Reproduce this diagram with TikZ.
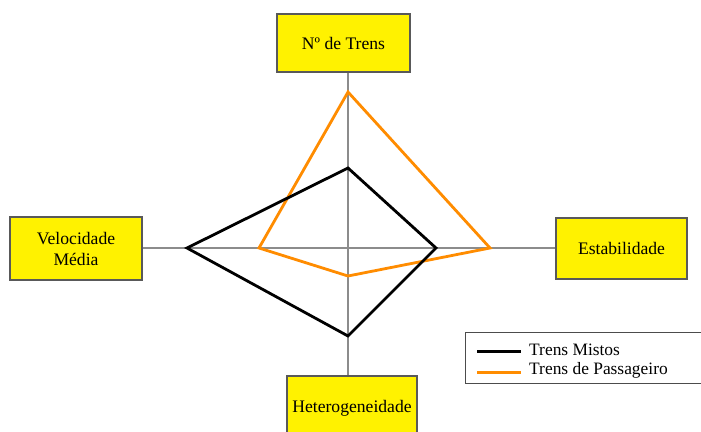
\documentclass[tikz,border=0pt]{standalone}
\usepackage{fontspec}
\setmainfont{Liberation Serif}
\begin{document}
\begin{tikzpicture}[x=1pt,y=-1pt,
  axbox/.style={draw=black!65,line width=1.4pt,fill=yellow,inner sep=0pt,align=center,font=\fontsize{17.6}{21}\selectfont},
  axis/.style={draw=black!45,line width=1.5pt},
  mistos/.style={draw=black,line width=2.8pt,line join=miter},
  passag/.style={draw=orange!90!yellow,line width=2.8pt,line join=miter},
  legtext/.style={anchor=west,inner sep=0pt,font=\fontsize{17.4}{20}\selectfont}]
\useasboundingbox (0,0) rectangle (701,431);
\fill[white] (0,0) rectangle (701,431);
% boxes
\node[axbox,minimum width=133pt,minimum height=58pt] (top) at (343.5,43) {Nº de Trens};
\node[axbox,minimum width=132pt,minimum height=63pt] (left) at (76,248.5) {Velocidade\\Média};
\node[axbox,minimum width=131pt,minimum height=61pt] (right) at (621.5,248.5) {Estabilidade};
\node[axbox,minimum width=130pt,minimum height=64pt] (bottom) at (352,408) {Heterogeneidade};
% axes
\coordinate (O) at (348,248);
\draw[axis] (O |- top.south) -- (O |- bottom.north);
\draw[axis] (left.east |- O) -- (right.west |- O);
% series
\coordinate (m1) at (348,168);
\coordinate (m2) at (436,248);
\coordinate (m3) at (348,336);
\coordinate (m4) at (187,248);
\coordinate (p1) at (348,92);
\coordinate (p2) at (490,248);
\coordinate (p3) at (348,276);
\coordinate (p4) at (259,248);
\draw[passag] (p1) -- (p2) -- (p3) -- (p4) -- cycle;
\draw[mistos] (m1) -- (m2) -- (m3) -- (m4) -- cycle;
% legend
\node[draw=black!70,line width=1.2pt,fill=white,minimum width=240pt,minimum height=51pt,anchor=north west,inner sep=0pt] (legend) at (465,332) {};
\coordinate (la1) at (477,351);
\coordinate (lb1) at (521,351);
\coordinate (la2) at (477,372);
\coordinate (lb2) at (521,372);
\draw[mistos,line width=3pt] (la1) -- (lb1);
\draw[passag,line width=3pt] (la2) -- (lb2);
\node[legtext] (t1) at (529,350) {Trens Mistos};
\node[legtext] (t2) at (529,370) {Trens de Passageiro};
\end{tikzpicture}
\end{document}
